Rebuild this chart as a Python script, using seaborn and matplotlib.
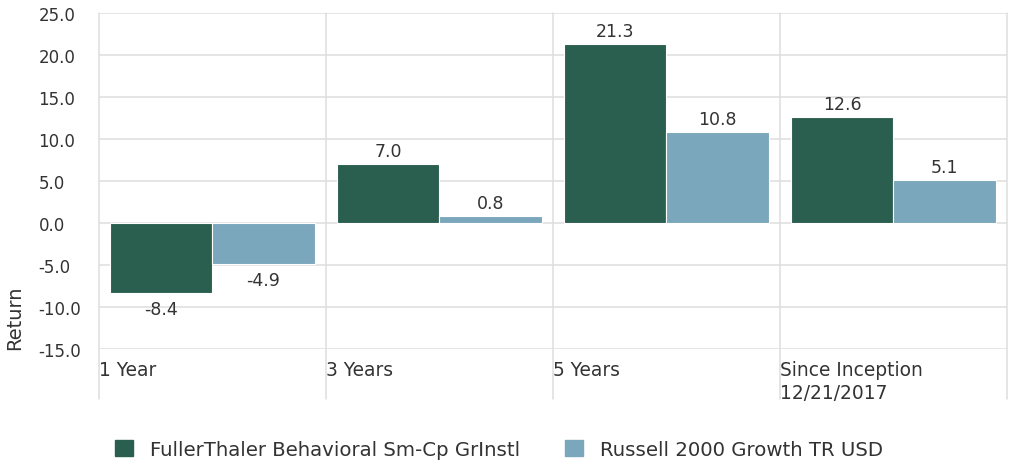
import pandas as pd
import matplotlib.pyplot as plt
import seaborn as sns

# data
periods = ["1 Year", "3 Years", "5 Years", "Since Inception\n12/21/2017"]
fund_name = "FullerThaler Behavioral Sm-Cp GrInstl"
bench_name = "Russell 2000 Growth TR USD"
fund_returns = [-8.4, 7.0, 21.3, 12.6]
bench_returns = [-4.9, 0.8, 10.8, 5.1]
y_ticks = [-15, -10, -5, 0, 5, 10, 15, 20, 25]

colors = {fund_name: "#2a5e4f", bench_name: "#7ba7bc"}
grid_col = "#dedede"
txt_col = "#333333"

df = pd.DataFrame({
    "Period": periods * 2,
    "Series": [fund_name] * 4 + [bench_name] * 4,
    "Return": fund_returns + bench_returns,
})

sns.set_style("white")
plt.rcParams["font.family"] = ["DejaVu Sans"]
plt.rcParams["text.color"] = txt_col

fig = plt.figure(figsize=(10.1, 4.64), dpi=100)
ax = fig.add_axes([0.098, 0.246, 0.899, 0.724])

sns.barplot(data=df, x="Period", y="Return", hue="Series", palette=colors,
            saturation=1, width=0.9, edgecolor="white", linewidth=0.8,
            ax=ax, legend=False)

ax.set_ylim(-15, 25)
ax.set_xlim(-0.5, 3.5)
ax.set_yticks(y_ticks, [f"{v:.1f}" for v in y_ticks])
for lab in ax.get_yticklabels():
    lab.set_horizontalalignment("left")
ax.tick_params(axis="y", length=9.5, width=1.1, color=grid_col, pad=34,
               labelsize=12, labelcolor=txt_col)
ax.yaxis.grid(True, color=grid_col, linewidth=1.1)
ax.set_axisbelow(True)

# category labels sit at the left edge of each group
ax.set_xticks([i - 0.5 for i in range(len(periods))], periods)
for lab in ax.get_xticklabels():
    lab.set_horizontalalignment("left")
    lab.set_verticalalignment("top")
    lab.set_linespacing(1.3)
ax.tick_params(axis="x", length=0, pad=8, labelsize=13.4, labelcolor=txt_col)

for i in range(len(periods) + 1):
    ax.axvline(i - 0.5, ymin=-0.149, ymax=1, color=grid_col, linewidth=1.1,
               clip_on=False, zorder=0)

for s in ax.spines.values():
    s.set_visible(False)

ax.set_xlabel("")
ax.set_ylabel("Return", fontsize=14, color=txt_col)
ax.yaxis.set_label_coords(-0.082, 0.095)

# value labels
for bar in ax.patches:
    h = bar.get_height()
    if bar.get_width() == 0:
        continue
    x = bar.get_x() + bar.get_width() / 2
    if h >= 0:
        ax.annotate(f"{h:.1f}", (x, h), xytext=(0, 3), textcoords="offset points",
                    ha="center", va="bottom", fontsize=12.5, color=txt_col)
    else:
        ax.annotate(f"{h:.1f}", (x, h), xytext=(0, -5), textcoords="offset points",
                    ha="center", va="top", fontsize=12.5, color=txt_col)

handles = [plt.Rectangle((0, 0), 1, 1, color=colors[n]) for n in [fund_name, bench_name]]
fig.legend(handles, [fund_name, bench_name], loc="center", bbox_to_anchor=(0.494, 0.03),
           ncol=2, frameon=False, fontsize=14.2, handlelength=0.92, handleheight=0.92,
           handletextpad=0.85, columnspacing=2.3)

fig.savefig("out.png", dpi=100)
